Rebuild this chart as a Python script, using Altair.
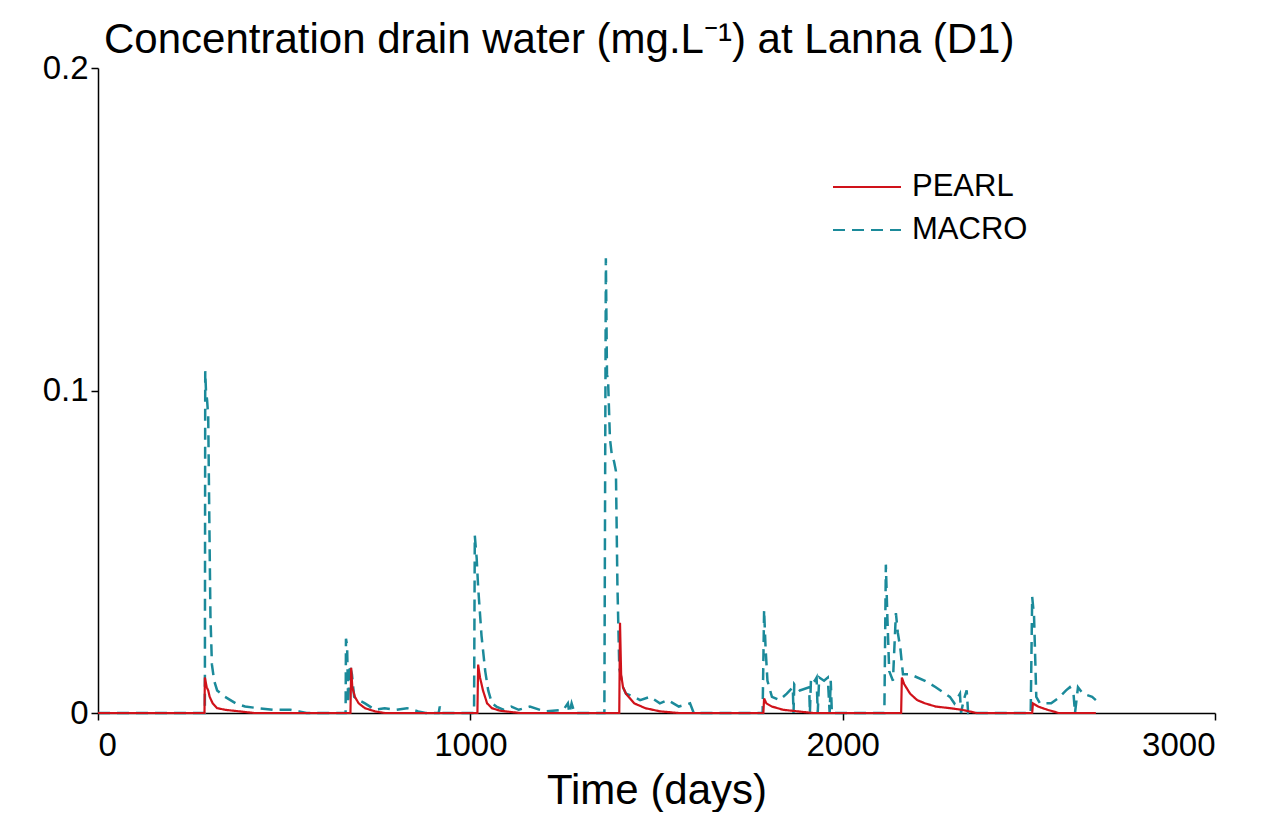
import altair as alt
import pandas as pd

RED = "#d0121a"
TEAL = "#1b8a9a"

title_text = "Concentration drain water (mg.L\u207b\u00b9) at Lanna (D1)"
x_ticks = [0, 1000, 2000, 3000]
y_ticks = [0, 0.1, 0.2]
models = ["PEARL", "MACRO"]

macro_days = [0, 283, 287, 288, 290, 293, 296, 299, 302, 306, 312, 320, 341, 370, 395, 430, 470, 516, 540, 560,
              665, 666, 669, 672, 676, 682, 688, 700, 717, 744, 770, 800, 830, 860, 880, 915, 918, 922,
              1010, 1012, 1017, 1021, 1030, 1040, 1048, 1058, 1070, 1090, 1110, 1130, 1160, 1200, 1250, 1262, 1266, 1272, 1280,
              1360, 1364, 1367, 1370, 1375, 1380, 1386, 1391, 1395, 1400, 1410, 1418, 1440, 1456, 1483, 1509, 1530, 1560, 1590, 1600,
              1785, 1789, 1793, 1798, 1810, 1830, 1850, 1866, 1868, 1870, 1885, 1910, 1912, 1915, 1925, 1930, 1933, 1937, 1950, 1960, 1965, 1968, 1971,
              2112, 2116, 2120, 2125, 2135, 2143, 2148, 2155, 2162, 2181, 2221, 2250, 2288, 2300, 2315, 2318, 2325, 2333, 2337,
              2505, 2509, 2514, 2520, 2530, 2560, 2578, 2600, 2610, 2620, 2624, 2632, 2645, 2670, 2680]
macro_conc = [0, 0, 0, 0.106, 0.100, 0.097, 0.092, 0.060, 0.030, 0.015, 0.010, 0.007, 0.005, 0.003, 0.002, 0.0015, 0.001, 0.001, 0.0005, 0,
              0, 0.023, 0.021, 0.003, 0.015, 0.012, 0.005, 0.004, 0.003, 0.001, 0.0015, 0.001, 0.0015, 0.0005, 0, 0, 0.002, 0,
              0, 0.055, 0.048, 0.039, 0.024, 0.013, 0.007, 0.003, 0.002, 0.001, 0.002, 0.001, 0.002, 0.0005, 0.001, 0.003, 0.0, 0.003, 0,
              0, 0.141, 0.105, 0.103, 0.085, 0.080, 0.078, 0.075, 0.040, 0.014, 0.008, 0.006, 0.005, 0.004, 0.005, 0.003, 0.004, 0.002, 0.003, 0,
              0, 0.032, 0.020, 0.010, 0.005, 0.004, 0.006, 0.008, 0, 0.009, 0.007, 0.008, 0.0, 0.011, 0.010, 0.011, 0, 0.011, 0.010, 0.011, 0.0, 0.010, 0,
              0, 0.046, 0.030, 0.013, 0.010, 0.031, 0.025, 0.020, 0.012, 0.012, 0.010, 0.008, 0.005, 0.003, 0.006, 0, 0.004, 0.007, 0,
              0, 0.036, 0.030, 0.005, 0.003, 0.003, 0.0045, 0.007, 0.008, 0.006, 0, 0.008, 0.006, 0.005, 0.004]

pearl_days = [0, 286, 287, 292, 296, 300, 308, 320, 341, 380, 420,
              678, 680, 683, 690, 700, 717, 744, 770,
              1019, 1021, 1026, 1034, 1045, 1058, 1080, 1133,
              1400, 1402, 1405, 1410, 1418, 1440, 1470, 1510, 1560,
              1787, 1789, 1795, 1810, 1840, 1880, 1920,
              2157, 2159, 2165, 2181, 2200, 2221, 2250, 2288, 2320, 2360,
              2509, 2511, 2525, 2550, 2580, 2680]
pearl_conc = [0, 0, 0.011, 0.008, 0.007, 0.005, 0.003, 0.0015, 0.001, 0.0005, 0,
              0, 0.014, 0.008, 0.005, 0.003, 0.0015, 0.0005, 0,
              0, 0.015, 0.011, 0.007, 0.003, 0.0015, 0.0007, 0,
              0, 0.028, 0.012, 0.008, 0.006, 0.003, 0.0015, 0.0005, 0,
              0, 0.0045, 0.003, 0.002, 0.001, 0.0005, 0,
              0, 0.011, 0.009, 0.006, 0.004, 0.003, 0.002, 0.0015, 0.001, 0,
              0, 0.003, 0.002, 0.001, 0, 0]

df_m = pd.DataFrame({"day": macro_days, "conc": macro_conc, "model": "MACRO"})
df_p = pd.DataFrame({"day": pearl_days, "conc": pearl_conc, "model": "PEARL"})

FONT = "Liberation Sans"

x_enc = alt.X("day:Q", scale=alt.Scale(domain=[0, 3000], nice=False, zero=False),
              axis=alt.Axis(values=x_ticks, title="Time (days)", format="d",
                            labelPadding=9, titlePadding=41, titleBaseline="alphabetic"))
y_enc = alt.Y("conc:Q", scale=alt.Scale(domain=[0, 0.2], nice=False),
              axis=alt.Axis(values=y_ticks, title=None, format="~g", labelPadding=3))
color_enc = alt.Color("model:N", scale=alt.Scale(domain=models, range=[RED, TEAL]),
                      legend=alt.Legend(title=None))
dash_enc = alt.StrokeDash("model:N", scale=alt.Scale(domain=models, range=[[1, 0], [12, 7]]),
                          legend=alt.Legend(title=None))

macro = alt.Chart(df_m).mark_line(strokeWidth=2.5).encode(
    x=x_enc, y=y_enc, color=color_enc, strokeDash=dash_enc, order="day:Q")
pearl = alt.Chart(df_p).mark_line(strokeWidth=2.2).encode(
    x=x_enc, y=y_enc, color=color_enc, strokeDash=dash_enc, order="day:Q")

chart = alt.layer(macro, pearl).properties(
    width=1117, height=645,
    autosize=alt.AutoSizeParams(type="none"),
    padding={"left": 90, "top": 60, "right": 40, "bottom": 99},
    title=alt.TitleParams(text=title_text, anchor="start", frame="group", font=FONT,
                          fontSize=42, fontWeight="normal", color="black", dx=6, offset=-10),
).configure_view(stroke=None).configure_axis(
    labelFont=FONT, titleFont=FONT, labelFontSize=33, titleFontSize=42,
    labelColor="black", titleColor="black", titleFontWeight="normal",
    domainColor="black", tickColor="black", domainWidth=1.5, tickWidth=1.5,
    tickSize=7, grid=False,
).configure_legend(
    orient="none", legendX=734, legendY=104, labelFont=FONT, labelFontSize=31,
    labelColor="black", symbolType="stroke", symbolSize=4624, symbolStrokeWidth=2,
    labelOffset=10, rowPadding=12, clipHeight=30,
)

chart.save("out.html", embed_options={"renderer": "svg", "actions": False})
